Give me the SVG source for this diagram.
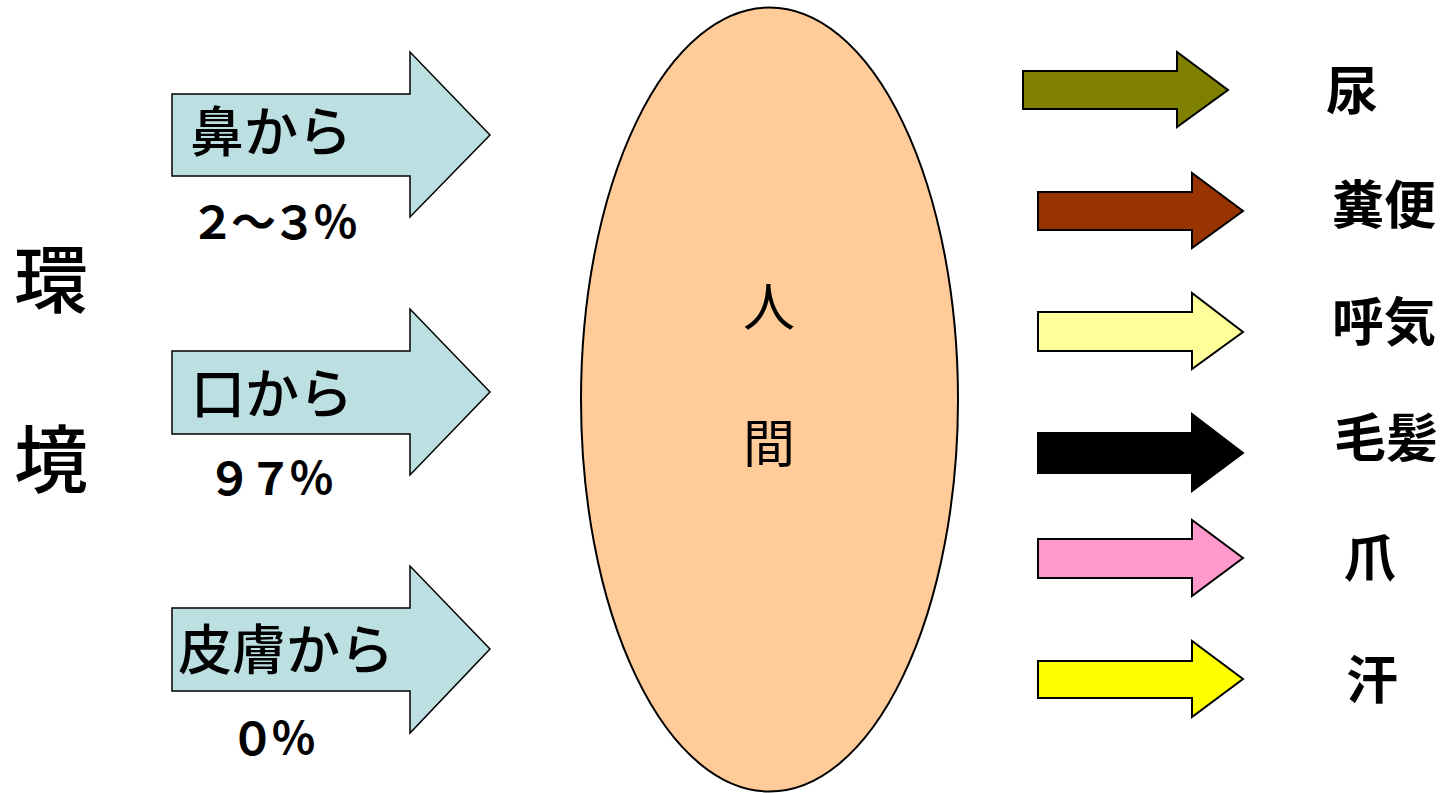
<svg xmlns="http://www.w3.org/2000/svg" width="1447" height="793" viewBox="0 0 1447 793">
<style>
.t{font-family:"Noto Sans CJK JP","Noto Sans CJK SC",sans-serif;fill:#000;dominant-baseline:central}
.in{fill:#BCDFE2;stroke:#000;stroke-width:1.5;stroke-linejoin:miter}
.out{stroke:#000;stroke-width:2;stroke-linejoin:miter}
.lab{font-size:54px;font-weight:500}
.pct{font-size:45px;font-weight:700;letter-spacing:-4px}
.rl{font-size:52px;font-weight:700}
</style>
<rect width="1447" height="793" fill="#fff"/>
<g id="env">
<text class="t" x="14" y="274" font-size="74" font-weight="500">環</text>
<text class="t" x="14" y="454" font-size="74" font-weight="500">境</text>
</g>
<g id="human">
<ellipse cx="769.5" cy="399.5" rx="188.5" ry="392" fill="#FFCC99" stroke="#000" stroke-width="2"/>
<text class="t" x="769" y="303" font-size="52" text-anchor="middle">人</text>
<text class="t" x="769" y="440" font-size="52" text-anchor="middle">間</text>
</g>
<g id="connectors">
<g id="in-nose">
<path class="in" d="M172,94 H410 V52 L490,135 L410,217 V176 H172 Z"/>
<text class="t lab" x="190" y="128" font-size="57">鼻から</text>
<text class="t pct" x="190" y="219">２～３％</text>
</g>
<g id="in-mouth">
<path class="in" d="M172,351 H410 V309 L490,392 L410,475 V434 H172 Z"/>
<text class="t lab" x="191" y="390">口から</text>
<text class="t pct" x="207" y="475">９７％</text>
</g>
<g id="in-skin">
<path class="in" d="M172,608 H410 V566 L490,649 L410,733 V691 H172 Z"/>
<text class="t lab" x="178" y="646" font-size="51">皮膚から</text>
<text class="t pct" x="230" y="735">０％</text>
</g>
<g id="out-urine">
<path class="out" fill="#808000" d="M1023,71 H1177 V52 L1228,90 L1177,127 V109 H1023 Z"/>
<text class="t rl" x="1326" y="87">尿</text>
</g>
<g id="out-feces">
<path class="out" fill="#993300" d="M1038,192 H1192 V173 L1243,211 L1192,248 V230 H1038 Z"/>
<text class="t rl" x="1332" y="201">糞便</text>
</g>
<g id="out-breath">
<path class="out" fill="#FFFF99" d="M1038,312 H1192 V293 L1243,332 L1192,369 V351 H1038 Z"/>
<text class="t rl" x="1332" y="318">呼気</text>
</g>
<g id="out-hair">
<path class="out" fill="#000000" d="M1038,433 H1192 V414 L1243,453 L1192,491 V473 H1038 Z"/>
<text class="t rl" x="1334" y="434">毛髪</text>
</g>
<g id="out-nail">
<path class="out" fill="#FF99CC" d="M1038,539 H1192 V520 L1243,558 L1192,596 V578 H1038 Z"/>
<text class="t rl" x="1344" y="554">爪</text>
</g>
<g id="out-sweat">
<path class="out" fill="#FFFF00" d="M1038,661 H1192 V641 L1243,679 L1192,717 V698 H1038 Z"/>
<text class="t rl" x="1346" y="676">汗</text>
</g>
</g>
</svg>
